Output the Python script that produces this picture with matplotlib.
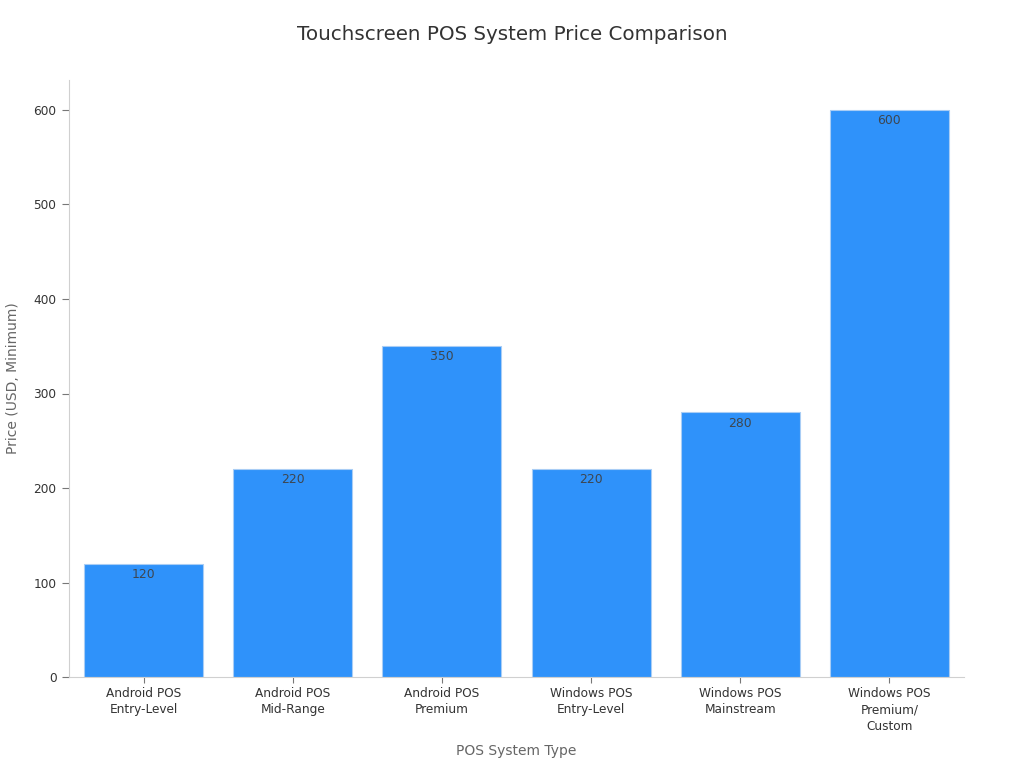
import matplotlib
matplotlib.use("Agg")
import matplotlib.pyplot as plt

categories = ["Android POS\nEntry-Level", "Android POS\nMid-Range", "Android POS\nPremium",
              "Windows POS\nEntry-Level", "Windows POS\nMainstream", "Windows POS\nPremium/\nCustom"]
prices = [120, 220, 350, 220, 280, 600]
yticks = [0, 100, 200, 300, 400, 500, 600]

plt.rcParams['font.family'] = ['DejaVu Sans']
fig = plt.figure(figsize=(10.24, 7.68), dpi=100)
ax = fig.add_axes([69/1024, 1-677/768, (964-69)/1024, (677-80)/768])
x = list(range(len(categories)))
bars = ax.bar(x, prices, width=0.797, color="#2f92fa", edgecolor="#a9cdf5", linewidth=0.8)
ax.set_xlim(-0.5, 5.5)
ax.set_ylim(0, 600*597/567)
ax.set_xticks(x, categories)
ax.set_yticks(yticks)
ax.tick_params(axis='both', labelsize=8.7, color="#777777", labelcolor="#333333", length=4, width=0.8, pad=3)
ax.tick_params(axis='y', length=5, pad=4)
for lab in ax.get_xticklabels():
    lab.set_linespacing(1.35)
for s in ("top", "right"):
    ax.spines[s].set_visible(False)
for s in ("left", "bottom"):
    ax.spines[s].set_color("#d0d0d0")
for xi, v in zip(x, prices):
    ax.annotate(str(v), (xi, v), xytext=(0, -3), textcoords="offset points",
                ha="center", va="top", fontsize=8.9, color="#3d4650")
fig.text(516.5/1024, 1-751.5/768, "POS System Type", ha="center", va="center", fontsize=10, color="#666666")
fig.text(13/1024, 1-378/768, "Price (USD, Minimum)", ha="center", va="center", rotation=90, fontsize=10, color="#666666")
fig.text(512/1024, 1-34/768, "Touchscreen POS System Price Comparison", ha="center", va="center",
         fontsize=14.3, color="#333333")
fig.savefig("out.png", dpi=100)
